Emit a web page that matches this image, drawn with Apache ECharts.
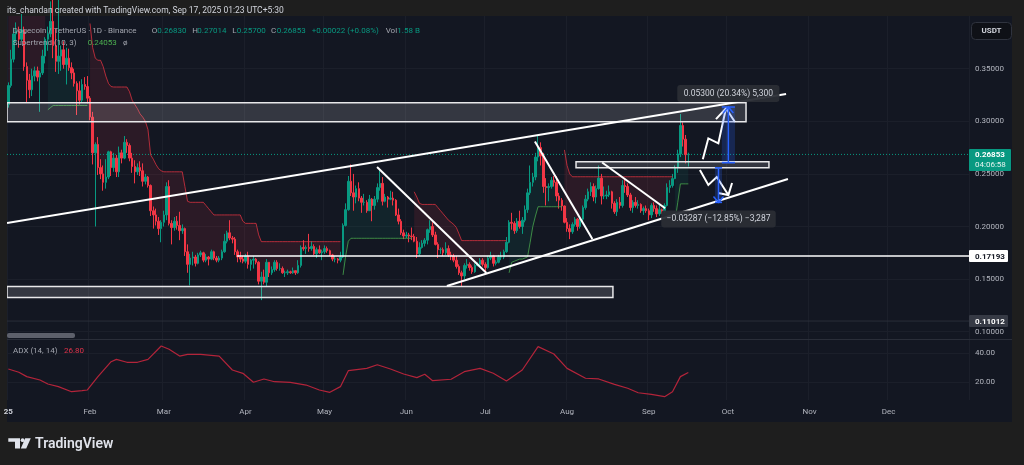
<!DOCTYPE html>
<html><head><meta charset="utf-8">
<script src="https://cdn.jsdelivr.net/npm/echarts@6/dist/echarts.min.js"></script>
<style>
html,body{margin:0;padding:0;background:#1e1e1e;overflow:hidden;}
#panel{position:absolute;left:7px;top:16px;width:1005px;height:406px;background:#131722;}
#c{position:absolute;left:0;top:0;width:1024px;height:465px;}
</style></head><body><div id="panel"></div><div id="c"></div>
<script>
const FONT = 'Roboto, "DejaVu Sans", sans-serif';
const dayCount = 365; // Jan 1 .. Dec 31 2025
const monthTickDays = [0,31,59,90,120,151,181,212,243,273,304,334];
const monthTickLabels = ['25','Feb','Mar','Apr','May','Jun','Jul','Aug','Sep','Oct','Nov','Dec'];
const priceTicks = [0.10,0.15,0.20,0.25,0.30,0.35];
const adxTicks = [20,40];

const firstOpen = 0.3160;
const closes = [
0.3340,0.3590,0.3830,0.3860,0.3780,0.3870,0.3520,0.3390,0.3300,0.3430,0.3480,0.3420,0.3460,0.3620,0.3780,0.3830,0.3950,0.3720,0.3570,0.3620,0.3680,0.3540,0.3600,0.3510,0.3460,0.3360,0.3290,0.3200,0.3350,0.3330,0.3220,
0.3040,0.2700,0.2780,0.2560,0.2500,0.2420,0.2470,0.2710,0.2560,0.2650,0.2520,0.2700,0.2650,0.2800,0.2770,0.2650,0.2570,0.2520,0.2560,0.2530,0.2430,0.2470,0.2390,0.2150,0.2110,0.2050,0.1980,0.2040,
0.2110,0.2380,0.2030,0.1990,0.2050,0.2010,0.1960,0.1980,0.1760,0.1640,0.1700,0.1710,0.1650,0.1730,0.1750,0.1680,0.1710,0.1690,0.1760,0.1700,0.1680,0.1700,0.1760,0.1860,0.1940,0.1890,0.1880,0.1760,0.1710,0.1690,0.1670,
0.1720,0.1640,0.1680,0.1690,0.1660,0.1480,0.1520,0.1470,0.1660,0.1560,0.1590,0.1660,0.1600,0.1600,0.1560,0.1560,0.1570,0.1560,0.1580,0.1560,0.1630,0.1800,0.1790,0.1800,0.1790,0.1810,0.1740,0.1780,0.1750,0.1760,
0.1790,0.1770,0.1730,0.1690,0.1690,0.1680,0.1710,0.2010,0.2160,0.2430,0.2320,0.2280,0.2360,0.2270,0.2230,0.2230,0.2150,0.2260,0.2200,0.2260,0.2370,0.2410,0.2240,0.2280,0.2260,0.2270,0.2250,0.2110,0.2050,0.1940,0.1910,
0.1920,0.1910,0.1905,0.1860,0.1740,0.1800,0.1840,0.1870,0.1970,0.2000,0.1920,0.1830,0.1780,0.1780,0.1750,0.1790,0.1730,0.1720,0.1680,0.1620,0.1560,0.1530,0.1630,0.1640,0.1610,0.1570,0.1630,0.1640,0.1680,0.1640,
0.1610,0.1700,0.1720,0.1650,0.1660,0.1710,0.1710,0.1760,0.1850,0.2040,0.2030,0.1960,0.2050,0.2000,0.2060,0.2160,0.2320,0.2420,0.2470,0.2660,0.2750,0.2670,0.2380,0.2370,0.2380,0.2440,0.2420,0.2290,0.2250,0.2195,0.2040,
0.1980,0.1950,0.2020,0.2070,0.2000,0.2070,0.2180,0.2260,0.2330,0.2380,0.2280,0.2360,0.2460,0.2290,0.2290,0.2300,0.2330,0.2220,0.2140,0.2230,0.2200,0.2390,0.2380,0.2300,0.2180,0.2230,0.2200,0.2210,0.2150,0.2170,0.2150,
0.2110,0.2200,0.2170,0.2120,0.2160,0.2140,0.2200,0.2370,0.2390,0.2455,0.2560,0.2690,0.2960,0.2830,0.2683,0.26853
];
const highs = [
0.3370,0.3680,0.3890,0.3940,0.3900,0.4020,0.3900,0.3560,0.3450,0.3500,0.3520,0.3520,0.3480,0.3680,0.3800,0.3900,0.4140,0.4280,0.3880,0.4320,0.3720,0.3760,0.3700,0.3690,0.3560,0.3500,0.3380,0.3380,0.3400,0.3420,0.3430,
0.3240,0.3090,0.2800,0.2850,0.2640,0.2580,0.2640,0.2720,0.2720,0.2700,0.2680,0.2760,0.2730,0.2860,0.2830,0.2790,0.2700,0.2630,0.2600,0.2620,0.2600,0.2500,0.2480,0.2400,0.2190,0.2170,0.2090,0.2060,
0.2150,0.2420,0.2440,0.2060,0.2090,0.2100,0.2140,0.2020,0.1990,0.1830,0.1740,0.1760,0.1730,0.1750,0.1770,0.1760,0.1740,0.1720,0.1780,0.1770,0.1720,0.1720,0.1780,0.1930,0.1960,0.2060,0.1910,0.1900,0.1780,0.1760,0.1720,
0.1740,0.1760,0.1690,0.1720,0.1700,0.1670,0.1570,0.1590,0.1690,0.1660,0.1620,0.1680,0.1680,0.1650,0.1620,0.1580,0.1590,0.1580,0.1610,0.1580,0.1680,0.1820,0.1870,0.1820,0.1930,0.1860,0.1830,0.1800,0.1820,0.1780,
0.1820,0.1810,0.1780,0.1740,0.1720,0.1700,0.1760,0.2030,0.2220,0.2480,0.2590,0.2500,0.2390,0.2420,0.2290,0.2310,0.2250,0.2300,0.2270,0.2290,0.2410,0.2540,0.2470,0.2310,0.2290,0.2340,0.2330,0.2260,0.2170,0.2070,0.1970,
0.1950,0.1940,0.1990,0.1930,0.1900,0.1850,0.1870,0.1890,0.1980,0.2060,0.2040,0.1950,0.1850,0.1800,0.1800,0.1850,0.1820,0.1760,0.1740,0.1720,0.1640,0.1580,0.1650,0.1690,0.1660,0.1630,0.1650,0.1660,0.1700,0.1700,
0.1660,0.1720,0.1760,0.1730,0.1680,0.1730,0.1760,0.1780,0.1900,0.2060,0.2130,0.2050,0.2080,0.2150,0.2090,0.2200,0.2360,0.2580,0.2510,0.2700,0.2870,0.2800,0.2700,0.2460,0.2410,0.2470,0.2480,0.2480,0.2320,0.2270,0.2200,
0.2080,0.2020,0.2040,0.2090,0.2080,0.2100,0.2200,0.2300,0.2360,0.2420,0.2410,0.2390,0.2580,0.2500,0.2380,0.2340,0.2390,0.2340,0.2240,0.2260,0.2280,0.2440,0.2450,0.2410,0.2320,0.2250,0.2280,0.2250,0.2220,0.2190,0.2200,
0.2170,0.2220,0.2230,0.2200,0.2210,0.2170,0.2220,0.2410,0.2440,0.2500,0.2580,0.2730,0.3070,0.2990,0.2870,0.27014
];
const lows = [
0.3130,0.3320,0.3560,0.3750,0.3700,0.3760,0.3480,0.3180,0.3220,0.3240,0.3380,0.3380,0.3090,0.3440,0.3550,0.3670,0.3800,0.3600,0.3470,0.3450,0.3480,0.3500,0.3350,0.3480,0.3400,0.3330,0.3060,0.3160,0.3180,0.3300,0.3170,
0.3010,0.2590,0.2000,0.2490,0.2450,0.2340,0.2360,0.2450,0.2480,0.2520,0.2470,0.2470,0.2600,0.2640,0.2700,0.2620,0.2510,0.2410,0.2490,0.2480,0.2380,0.2400,0.2370,0.2100,0.1980,0.2010,0.1920,0.1850,
0.2000,0.2060,0.2010,0.1830,0.1960,0.1970,0.1870,0.1930,0.1720,0.1560,0.1440,0.1630,0.1620,0.1640,0.1710,0.1660,0.1660,0.1630,0.1680,0.1680,0.1660,0.1660,0.1680,0.1750,0.1840,0.1870,0.1840,0.1730,0.1660,0.1660,0.1650,
0.1650,0.1600,0.1580,0.1600,0.1640,0.1450,0.1300,0.1450,0.1430,0.1520,0.1540,0.1570,0.1580,0.1580,0.1550,0.1520,0.1540,0.1550,0.1550,0.1540,0.1550,0.1610,0.1770,0.1740,0.1760,0.1770,0.1730,0.1700,0.1740,0.1680,
0.1740,0.1750,0.1720,0.1670,0.1660,0.1650,0.1660,0.1700,0.2000,0.2150,0.2290,0.2150,0.2220,0.2240,0.2130,0.2200,0.2130,0.2150,0.2050,0.2160,0.2230,0.2340,0.2200,0.2230,0.2180,0.2250,0.2200,0.2100,0.2020,0.1920,0.1880,
0.1890,0.1850,0.1870,0.1850,0.1700,0.1720,0.1790,0.1810,0.1830,0.1940,0.1900,0.1820,0.1700,0.1740,0.1720,0.1730,0.1710,0.1680,0.1660,0.1600,0.1540,0.1430,0.1500,0.1600,0.1580,0.1550,0.1560,0.1620,0.1620,0.1620,
0.1570,0.1600,0.1680,0.1620,0.1630,0.1650,0.1680,0.1690,0.1750,0.1840,0.1970,0.1930,0.1940,0.1980,0.1930,0.2040,0.2130,0.2300,0.2380,0.2440,0.2620,0.2580,0.2320,0.2200,0.2240,0.2360,0.2380,0.2240,0.2170,0.2150,0.2030,
0.1950,0.1880,0.1930,0.2000,0.1960,0.1980,0.2050,0.2160,0.2240,0.2290,0.2240,0.2220,0.2350,0.2210,0.2260,0.2260,0.2280,0.2170,0.2120,0.2100,0.2170,0.2180,0.2320,0.2280,0.2150,0.2130,0.2180,0.2170,0.2130,0.2110,0.2130,
0.2060,0.2080,0.2140,0.2090,0.2100,0.2120,0.2130,0.2190,0.2320,0.2370,0.2450,0.2510,0.2660,0.2760,0.2600,0.25700
];

// Supertrend (10,3) line, one value per candle, and the candles where its direction flips
const stValues = [
0.445,0.445,0.445,0.445,0.445,0.445,0.440,0.440,0.440,0.440,0.440,0.440,0.440,0.440,0.440,
0.311,0.313,0.315,0.315,0.315,0.315,0.315,0.315,0.315,0.315,0.315,0.315,0.315,0.315,0.315,0.315,
0.393,0.370,0.360,0.358,0.358,0.352,0.343,0.336,0.333,
0.3326,0.3326,0.3326,0.3326,0.3326,0.3326,
0.328,0.320,0.316,0.312,0.307,0.304,0.300,0.292,0.268,0.264,0.259,0.255,0.253,
0.252,0.252,0.252,0.252,0.252,0.252,0.252,0.252,
0.238,0.224,
0.223,0.223,0.223,0.223,0.223,0.223,
0.220,0.217,0.214,0.211,
0.211,0.211,0.211,0.211,0.211,0.211,0.211,0.211,0.211,0.211,
0.205,
0.203,0.203,0.203,0.203,0.203,
0.192,
0.1856,0.1856,0.1856,0.1856,0.1856,0.1856,0.1856,0.1856,0.1856,0.1856,0.1856,0.1856,0.1856,0.1856,0.1856,0.1856,0.1856,0.1856,0.1856,0.1856,0.1856,0.1856,0.1856,0.1856,0.1856,0.1856,0.1856,0.1856,0.1856,0.1856,0.1856,
0.154,0.172,0.186,
0.1888,0.1888,0.1888,0.1888,0.1888,0.1888,0.1888,0.1888,0.1888,0.1888,0.1888,0.1888,0.1888,0.1888,0.1888,0.1888,0.1888,0.1888,0.1888,0.1888,0.1888,0.1888,0.1888,0.1888,
0.233,0.228,0.222,
0.221,0.221,0.221,0.221,0.221,0.221,
0.218,0.215,0.212,0.209,0.206,0.204,0.202,0.199,0.193,
0.1866,0.1866,0.1866,0.1866,0.1866,0.1866,0.1866,0.1866,0.1866,0.1866,0.1866,0.1866,0.1866,0.1866,0.1866,0.1866,0.1866,0.1866,
0.156,0.166,0.167,0.168,0.169,0.169,0.170,0.171,0.185,0.200,0.210,
0.2188,0.2188,0.2188,0.2188,0.2188,0.2188,0.2188,0.2188,0.2188,0.2188,
0.2728,0.258,0.250,
0.2473,0.2473,0.2473,0.2473,0.2473,0.2473,0.2473,0.2473,0.2473,0.2473,0.2473,0.2473,0.2473,0.2473,0.2473,0.2473,0.2473,0.2473,0.2473,0.2473,0.2473,0.2473,0.2473,0.2473,0.2473,0.2473,0.2473,0.2473,0.2473,0.2473,0.2473,0.2473,0.2473,0.2473,0.2473,0.2473,0.2473,0.2473,0.2473,
0.206,0.223,
0.24053,0.24053,0.24053,0.24053
];
const stFlips = [[0,-1],[15,1],[31,-1],[127,1],[154,-1],[190,1],[211,-1],[253,1]];

// ADX (14,14) read at sample days
const adxPoints = [[0,29.2],[4,26.9],[7,23.9],[12,21.6],[15,18.8],[19,17.0],[24,13.5],[28,14.2],[30,14.7],[34,23.9],[39,34.2],[41,35.8],[45,33.8],[49,33.8],[53,35.8],[58,45.0],[61,42.8],[65,38.1],[68,39.3],[73,39.3],[80,38.1],[85,28.5],[89,26.2],[93,20.0],[97,22.3],[101,20.4],[107,20.0],[113,18.1],[118,14.7],[122,13.1],[126,17.0],[129,28.0],[136,29.6],[140,32.1],[145,29.2],[150,25.7],[155,23.2],[158,25.5],[161,21.1],[168,22.1],[173,27.3],[179,29.6],[184,26.2],[189,20.9],[195,28.5],[201,44.6],[207,39.5],[212,29.6],[219,22.8],[224,22.3],[230,18.6],[235,15.9],[239,12.8],[244,11.7],[249,10.1],[252,13.5],[255,23.9],[258,26.8]];

const lastPrice = 0.26853;
const countdown = '04:06:58';
const hLineLevels = [[86.8, 0.17193]];
const darkLevel = 0.11012;
// drawings in (day index, price)
const zoneRects = [[-0.5,279.9,0.2996,0.3177],[215.4,288.6,0.2558,0.2616],[-0.5,229.4,0.1325,0.1430]];
const trendLines = [[-0.5,0.2033,295.1,0.3260],[166.4,0.1434,295.8,0.2452],[139.9,0.2566,181.4,0.1558],[199.8,0.2808,221.6,0.1881],[225.3,0.2608,249.2,0.2173]];
const zigzagPaths = [
  [[263.5,0.2639],[265.6,0.2838],[269.4,0.2791],[272.3,0.3124]],
  [[262.4,0.2537],[265.6,0.2395],[268.8,0.2471],[273.2,0.2299]]
];
const zigzagHeads = [
  [[268.5,0.3020],[275.7,0.2993]],
  [[269.3,0.2318],[274.6,0.2414]]
];
const measures = [[270.7,275.7,0.2606,0.3136],[268.1,270.8,0.2558,0.2229]];
const measureLabels = ['0.05300 (20.34%) 5,300','\u22120.03287 (\u221212.85%) \u22123,287'];

// ---------- derived ----------
const ohlc = closes.map((c,i)=>{
  const o = i===0 ? firstOpen : closes[i-1];
  return [o, c, Math.min(lows[i],o,c), Math.max(highs[i],o,c)];
});
const mids = ohlc.map(d=>(d[0]+d[1])/2);
const trends = closes.map((_,i)=>{let t=stFlips[0][1]; for(const f of stFlips){ if(i>=f[0]) t=f[1]; } return t;});
const runs = [];
for (let k=0;k<stFlips.length;k++){
  const s = stFlips[k][0], e = (k+1<stFlips.length? stFlips[k+1][0]-1 : closes.length-1);
  runs.push([s,e,stFlips[k][1]]);
}
const stUp = stValues.map((v,i)=>trends[i]>0?v:null);
const stDown = stValues.map((v,i)=>trends[i]<0?v:null);
const cats = Array.from({length:dayCount},(_,i)=>String(i));
const isTick = (idx)=>monthTickDays.indexOf(idx)>=0;

const labelColor = '#b2b5be';
const gridColor = '#1b1f2a';

const option = {
  animation:false,
  backgroundColor:'transparent',
  grid:[
    {left:7, top:16, width:962, height:323, outerBoundsMode:'none'},
    {left:7, top:340, width:962, height:60, outerBoundsMode:'none'}
  ],
  xAxis:[
    {type:'category', gridIndex:0, data:cats, boundaryGap:true, axisLine:{show:false}, axisTick:{show:false}, axisLabel:{show:false},
     splitLine:{show:true, interval:(i)=>isTick(i), lineStyle:{color:gridColor,width:1}}},
    {type:'value', gridIndex:0, min:-0.5, max:dayCount-0.5, show:false},
    {type:'category', gridIndex:1, data:cats, boundaryGap:true, axisLine:{show:false}, axisTick:{show:false},
     axisLabel:{show:true, interval:(i)=>isTick(i), margin:8, color:labelColor, fontSize:8, fontFamily:FONT,
       formatter:(v,idx)=>{const k=monthTickDays.indexOf(Number(v)); if(k<0) return ''; return k===0? '{y|'+monthTickLabels[k]+'}' : monthTickLabels[k];},
       rich:{y:{fontWeight:'bold', color:'#d1d4dc', fontSize:8, fontFamily:FONT}}},
     splitLine:{show:true, interval:(i)=>isTick(i), lineStyle:{color:gridColor,width:1}}},
    {type:'value', gridIndex:1, min:-0.5, max:dayCount-0.5, show:false}
  ],
  yAxis:[
    {type:'value', gridIndex:0, position:'right', min:0.09306, max:0.4001, axisLine:{show:false},
     axisTick:{show:false, customValues:priceTicks},
     axisLabel:{customValues:priceTicks, formatter:(v)=>v.toFixed(5), color:labelColor, fontSize:8, fontFamily:FONT, margin:6},
     splitLine:{show:true, lineStyle:{color:gridColor,width:1}}},
    {type:'value', gridIndex:1, position:'right', min:7.79, max:49.17, axisLine:{show:false},
     axisTick:{show:false, customValues:adxTicks},
     axisLabel:{customValues:adxTicks, formatter:(v)=>v.toFixed(2), color:labelColor, fontSize:8, fontFamily:FONT, margin:6},
     splitLine:{show:true, lineStyle:{color:gridColor,width:1}}}
  ],
  series:[
    { // supertrend fill
      type:'custom', xAxisIndex:1, yAxisIndex:0, clip:true, z:1, silent:true,
      data: runs.map(r=>[r[0], r[1], r[2]]),
      renderItem:(params, api)=>{
        const s = api.value(0), e = api.value(1), dir = api.value(2);
        const pts = [];
        for (let i=s;i<=e;i++) pts.push(api.coord([i, mids[i]]));
        for (let i=e;i>=s;i--) pts.push(api.coord([i, stValues[i]]));
        return {type:'polygon', shape:{points:pts}, style:{fill: dir>0 ? 'rgba(8,153,129,0.10)' : 'rgba(242,54,69,0.11)'}};
      }
    },
    {type:'line', xAxisIndex:0, yAxisIndex:0, data:stUp, showSymbol:false, connectNulls:false, z:3, silent:true,
     lineStyle:{color:'rgba(76,175,80,0.75)', width:1}},
    {type:'line', xAxisIndex:0, yAxisIndex:0, data:stDown, showSymbol:false, connectNulls:false, z:3, silent:true,
     lineStyle:{color:'rgba(242,54,69,0.7)', width:1}},
    {type:'candlestick', xAxisIndex:0, yAxisIndex:0, data:ohlc, barWidth:2, clip:true, z:2,
     itemStyle:{color:'#089981', color0:'#f23645', borderColor:'#089981', borderColor0:'#f23645', borderWidth:1}},
    { // last price dotted line
      type:'line', xAxisIndex:1, yAxisIndex:0, data:[[-0.5,lastPrice],[dayCount-0.5,lastPrice]], showSymbol:false, z:2, silent:true,
      lineStyle:{color:'#089981', width:1, type:[1,2]}},
    { type:'line', xAxisIndex:1, yAxisIndex:0, data:[[-0.5,darkLevel],[dayCount-0.5,darkLevel]], showSymbol:false, z:2, silent:true,
      lineStyle:{color:'#2a2e39', width:1}},
    { // zones
      type:'custom', xAxisIndex:1, yAxisIndex:0, clip:true, z:5, silent:true, data:zoneRects,
      renderItem:(params, api)=>{
        const a = api.coord([api.value(0), api.value(3)]), b = api.coord([api.value(1), api.value(2)]);
        return {type:'rect', shape:{x:a[0], y:a[1], width:b[0]-a[0], height:b[1]-a[1]},
          style:{fill:'rgba(255,255,255,0.14)', stroke:'#e8e8ea', lineWidth:1.5}};
      }
    },
    { // trend lines
      type:'custom', xAxisIndex:1, yAxisIndex:0, clip:true, z:6, silent:true, data:trendLines,
      renderItem:(params, api)=>{
        const a = api.coord([api.value(0), api.value(1)]), b = api.coord([api.value(2), api.value(3)]);
        return {type:'line', shape:{x1:a[0], y1:a[1], x2:b[0], y2:b[1]}, style:{stroke:'#ffffff', lineWidth:2}};
      }
    },
    { // horizontal ray
      type:'custom', xAxisIndex:1, yAxisIndex:0, clip:true, z:6, silent:true, data:hLineLevels,
      renderItem:(params, api)=>{
        const a = api.coord([api.value(0), api.value(1)]);
        const cs = params.coordSys;
        return {type:'line', shape:{x1:a[0], y1:a[1], x2:cs.x+cs.width, y2:a[1]}, style:{stroke:'#ffffff', lineWidth:1.6}};
      }
    },
    { // zigzag arrows
      type:'custom', xAxisIndex:1, yAxisIndex:0, clip:true, z:7, silent:true,
      data: zigzagPaths.map((p,i)=>[p[0][0], p[0][1], i]),
      renderItem:(params, api)=>{
        const k = api.value(2);
        const pts = zigzagPaths[k].map(p=>api.coord(p));
        const tip = pts[pts.length-1];
        const w = zigzagHeads[k].map(p=>api.coord(p));
        return {type:'group', children:[
          {type:'polyline', shape:{points:pts}, style:{stroke:'#ffffff', lineWidth:2, fill:null}},
          {type:'polyline', shape:{points:[w[0], tip, w[1]]}, style:{stroke:'#ffffff', lineWidth:2, fill:null}}
        ]};
      }
    },
    { // price range measurements
      type:'custom', xAxisIndex:1, yAxisIndex:0, clip:false, z:8, silent:true, data:measures,
      renderItem:(params, api)=>{
        const k = params.dataIndex;
        const a = api.coord([api.value(0), api.value(2)]), b = api.coord([api.value(1), api.value(3)]);
        const xl=a[0], xr=b[0], yf=a[1], yt=b[1], xc=(xl+xr)/2;
        const up = yt < yf;
        const label = measureLabels[k];
        const bw = label.length*4.1+12, bh = 17;
        const by = up ? yt-22 : yt+8;
        const blue = '#2962ff';
        return {type:'group', children:[
          {type:'rect', shape:{x:xl, y:Math.min(yf,yt), width:xr-xl, height:Math.abs(yt-yf)}, style:{fill:'rgba(41,98,255,0.22)'}},
          {type:'line', shape:{x1:xl, y1:yf, x2:xr, y2:yf}, style:{stroke:blue, lineWidth:1.5}},
          {type:'line', shape:{x1:xl, y1:yt, x2:xr, y2:yt}, style:{stroke:blue, lineWidth:1.5}},
          {type:'line', shape:{x1:xc, y1:yf, x2:xc, y2:yt}, style:{stroke:blue, lineWidth:1.5}},
          {type:'polyline', shape:{points:[[xc-5, yt+(up?6:-6)],[xc,yt],[xc+5, yt+(up?6:-6)]]}, style:{stroke:blue, lineWidth:1.5, fill:null}},
          {type:'rect', shape:{x:xc-bw/2, y:by, width:bw, height:bh, r:3}, style:{fill:'rgba(42,45,53,0.95)'}},
          {type:'text', style:{x:xc, y:by+bh/2, text:label, fill:'#d1d4dc', font:'8.5px '+FONT, align:'center', verticalAlign:'middle'}}
        ]};
      }
    },
    { // price axis badges
      type:'custom', xAxisIndex:1, yAxisIndex:0, clip:false, z:9, silent:true,
      data:[[0, lastPrice, 0],[0, hLineLevels[0][1], 1],[0, darkLevel, 2]],
      renderItem:(params, api)=>{
        const y = api.coord([0, api.value(1)])[1];
        const kind = api.value(2);
        const cs = params.coordSys; const x0 = cs.x+cs.width;
        const val = api.value(1).toFixed(5);
        if (kind===0) {
          return {type:'group', children:[
            {type:'rect', shape:{x:x0, y:y-5.5, width:42, height:22, r:1}, style:{fill:'#089981'}},
            {type:'text', style:{x:x0+6, y:y+0.8, text:val, fill:'#ffffff', font:'bold 8px '+FONT, verticalAlign:'middle'}},
            {type:'text', style:{x:x0+6, y:y+10.8, text:countdown, fill:'#e6f4f1', font:'8px '+FONT, verticalAlign:'middle'}}
          ]};
        }
        const light = kind===1;
        return {type:'group', children:[
          {type:'rect', shape:{x:x0, y:y-6, width:39, height:12, r:1}, style:{fill: light?'#ffffff':'#363a45'}},
          {type:'text', style:{x:x0+6, y:y+0.5, text:val, fill: light?'#131722':'#ffffff', font:'bold 8px '+FONT, verticalAlign:'middle'}}
        ]};
      }
    },
    {type:'line', xAxisIndex:3, yAxisIndex:1, data:adxPoints, showSymbol:false, z:3, silent:true,
     lineStyle:{color:'#b3243a', width:1.2}}
  ],
  graphic:[
    {type:'line', shape:{x1:7, y1:339.5, x2:1012, y2:339.5}, style:{stroke:'#2a2e39', lineWidth:1}, z:10},
    {type:'rect', shape:{x:7, y:333, width:68, height:5, r:2}, style:{fill:'#5d606b'}, z:10},
    {type:'text', x:7, y:11, style:{text:'its_chandan created with TradingView.com, Sep 17, 2025 01:23 UTC+5:30', fill:'#d1d4dc', font:'8.5px '+FONT, verticalAlign:'middle'}, z:10},
    {type:'text', x:12.7, y:30.7, style:{text:'Dogecoin / TetherUS \u00b7 1D \u00b7 Binance', fill:'#a3a6af', font:'8px '+FONT, verticalAlign:'middle'}, z:10},
    {type:'text', x:151.7, y:30.7, style:{text:'O', fill:'#a3a6af', font:'8px '+FONT, verticalAlign:'middle'}, z:10},
    {type:'text', x:157.3, y:30.7, style:{text:'0.26830', fill:'#089981', font:'8px '+FONT, verticalAlign:'middle'}, z:10},
    {type:'text', x:192.3, y:30.7, style:{text:'H', fill:'#a3a6af', font:'8px '+FONT, verticalAlign:'middle'}, z:10},
    {type:'text', x:197.3, y:30.7, style:{text:'0.27014', fill:'#089981', font:'8px '+FONT, verticalAlign:'middle'}, z:10},
    {type:'text', x:232.3, y:30.7, style:{text:'L', fill:'#a3a6af', font:'8px '+FONT, verticalAlign:'middle'}, z:10},
    {type:'text', x:236.7, y:30.7, style:{text:'0.25700', fill:'#089981', font:'8px '+FONT, verticalAlign:'middle'}, z:10},
    {type:'text', x:271, y:30.7, style:{text:'C', fill:'#a3a6af', font:'8px '+FONT, verticalAlign:'middle'}, z:10},
    {type:'text', x:276.7, y:30.7, style:{text:'0.26853', fill:'#089981', font:'8px '+FONT, verticalAlign:'middle'}, z:10},
    {type:'text', x:311.7, y:30.7, style:{text:'+0.00022 (+0.08%)', fill:'#089981', font:'8px '+FONT, verticalAlign:'middle'}, z:10},
    {type:'text', x:385.7, y:30.7, style:{text:'Vol', fill:'#a3a6af', font:'8px '+FONT, verticalAlign:'middle'}, z:10},
    {type:'text', x:397.3, y:30.7, style:{text:'1.58 B', fill:'#089981', font:'8px '+FONT, verticalAlign:'middle'}, z:10},
    {type:'text', x:12.7, y:42.7, style:{text:'Supertrend (10, 3)', fill:'#a3a6af', font:'8px '+FONT, verticalAlign:'middle'}, z:10},
    {type:'text', x:87.7, y:42.7, style:{text:'0.24053', fill:'#4caf50', font:'8px '+FONT, verticalAlign:'middle'}, z:10},
    {type:'text', x:123, y:42.7, style:{text:'\u00f8', fill:'#a3a6af', font:'8px '+FONT, verticalAlign:'middle'}, z:10},
    {type:'text', x:13, y:351, style:{text:'ADX (14, 14)', fill:'#a3a6af', font:'8px '+FONT, verticalAlign:'middle'}, z:10},
    {type:'text', x:64, y:351, style:{text:'26.80', fill:'#e0334a', font:'8px '+FONT, verticalAlign:'middle'}, z:10},
    {type:'rect', shape:{x:971.5, y:22.5, width:40, height:17, r:4}, style:{fill:'#0f1117', stroke:'#2f333e', lineWidth:1}, z:10},
    {type:'text', x:991.5, y:31, style:{text:'USDT', fill:'#d1d4dc', font:'bold 8px '+FONT, align:'center', verticalAlign:'middle'}, z:11},
    // TradingView logo
    {type:'polygon', shape:{points:[[8.3,438.3],[20,438.3],[20,448.5],[15,448.5],[15,441.8],[8.3,441.8]]}, style:{fill:'#e0e3eb'}, z:10},
    {type:'circle', shape:{cx:22.6, cy:440.2, r:1.9}, style:{fill:'#e0e3eb'}, z:10},
    {type:'polygon', shape:{points:[[25.2,438.3],[30.8,438.3],[26.2,448.5],[20.8,448.5]]}, style:{fill:'#e0e3eb'}, z:10},
    {type:'text', x:35, y:444, style:{text:'TradingView', fill:'#e0e3eb', font:'600 14px '+FONT, verticalAlign:'middle'}, z:10}
  ]
};
const chart = echarts.init(document.getElementById('c'), null, {renderer:'canvas', width:1024, height:465});
chart.setOption(option);
</script></body></html>
